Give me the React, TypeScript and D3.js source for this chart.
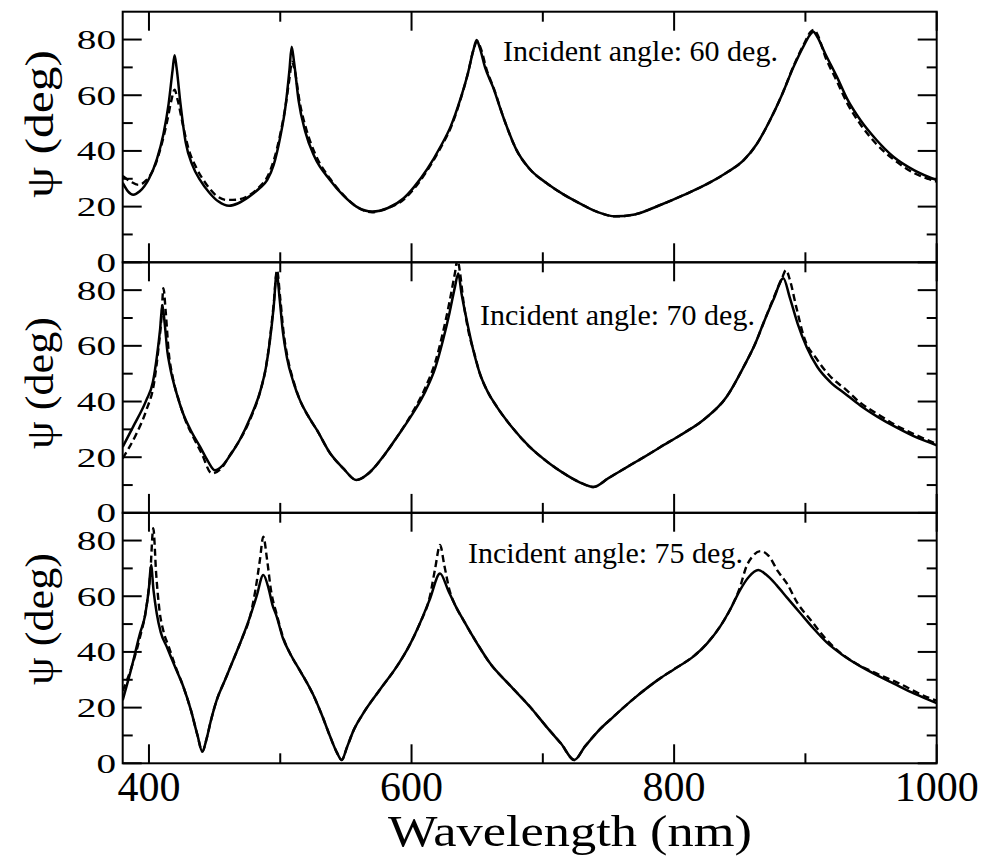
import React from "react";
import * as d3 from "d3";

// Wavelength (nm), psi (deg)
const solid60: [number, number][] = [
  [380, 28.5], [384, 25.5], [388, 24.3], [393, 25.5], [400, 30], [406, 37], [411, 46], [415, 57], [418, 69], [419.5, 74.4],
  [421, 70], [424, 57], [428, 43], [433, 35], [439, 29.5], [446, 25], [453, 21.8], [461, 20.3], [468, 21.2], [476, 23.5],
  [484, 26.5], [490, 29.5], [495, 35], [500, 45], [504, 56], [507, 69], [508.7, 77.4], [510.5, 72], [514, 58], [519, 47],
  [526, 38], [538, 29.5], [548, 24], [558, 20], [570, 18.2], [582, 19.5], [594, 23], [602, 27.1], [612, 33.5], [622, 41.5],
  [630, 49], [637, 58.3], [643, 68], [647, 76], [649.6, 79.8], [652, 77], [656, 70], [662, 63], [670, 52], [680, 40.3],
  [690, 33.5], [703, 28.4], [716, 24.3], [728, 21.2], [742, 18], [755, 16.5], [770, 17.2], [789, 20.5], [808, 24.3], [827, 28.6],
  [841, 32.5], [853, 36.7], [863, 42.5], [873, 51], [882, 60], [891, 70.2], [899, 78], [904, 82], [906, 82.8], [909, 81],
  [915, 75], [924, 66.6], [932, 58.5], [942, 51], [954, 44], [967, 37.9], [983, 33], [1000, 29.5],
];
const dashed60: [number, number][] = [
  [380, 31], [386, 29], [392, 27.8], [398, 29.5], [404, 34], [410, 43], [414, 51], [417, 58], [419.5, 62], [422, 58],
  [426, 49], [430, 41], [436, 34], [443, 28.5], [450, 24.5], [459, 22.4], [467, 22.5], [476, 24], [484, 27], [490, 30.5],
  [495, 36.5], [500, 46], [504, 56], [507, 66], [509, 72], [511, 69], [515, 57], [520, 47.5], [527, 38.5], [538, 30],
  [548, 24.2], [558, 20], [570, 18], [582, 19.5], [594, 22.5], [602, 26.5], [612, 33], [622, 41], [630, 48.5], [637, 58],
  [643, 68], [647, 76], [650, 79.3], [653, 76.5], [657, 69.5], [663, 62], [670, 52], [680, 40.3], [690, 33.5], [703, 28.4],
  [716, 24.3], [728, 21.2], [742, 18], [755, 16.5], [770, 17.2], [789, 20.5], [808, 24.3], [827, 28.6], [841, 32.5], [853, 36.7],
  [863, 42.5], [873, 51], [882, 60], [891, 70.5], [899, 78.5], [904, 82.8], [906.5, 83.5], [909, 82], [915, 74], [924, 65],
  [932, 57], [942, 49.5], [954, 42.5], [967, 37], [983, 32], [1000, 29],
];
const solid70: [number, number][] = [
  [380, 23.7], [388, 31], [398, 40.5], [403, 47], [406, 56], [408.5, 66], [410.2, 74.7], [412, 68], [414, 58], [416, 52.5],
  [421, 43], [426, 35.7], [432, 29.5], [439, 23.7], [445, 18.5], [450.3, 15.3], [456, 17], [463, 21.5], [469, 26.1], [477, 34],
  [485, 44.1], [489, 52], [492.2, 62.1], [495, 74], [497.3, 86], [499.5, 77], [502, 65], [505, 56], [510, 47], [515, 40.5],
  [521, 35], [528, 29.7], [538, 21.4], [548, 16], [558, 11.8], [568, 14.5], [578, 20], [589, 27.3], [600, 35], [611, 44.1],
  [618, 52], [624, 62.1], [629, 72], [633, 81], [635.6, 86], [638, 79], [642, 69.3], [647, 58.5], [652, 50.1], [658, 43.5],
  [665, 38.1], [677, 30.5], [690, 23.7], [703, 18.5], [716, 14.2], [728, 11], [738.5, 9.3], [750, 12.5], [766, 17], [778, 20.3],
  [789, 23.5], [805, 28], [822, 33.3], [840, 41.7], [853, 52.5], [862, 61], [868, 68.1], [876, 77], [883.2, 84.3], [888, 77.5],
  [894, 68.1], [901, 59.5], [909, 52.5], [919, 47], [930, 42.9], [942, 38.5], [955, 34.5], [970, 30.5], [985, 27], [1000, 24.3],
];
const dashed70: [number, number][] = [
  [380, 19.6], [390, 28], [398, 36.9], [404, 47], [407, 58], [409.5, 70], [411, 80.7], [412.8, 72], [415, 58], [418, 49],
  [423, 40], [428, 33], [434, 27], [440, 21.5], [447.8, 14.2], [455, 16], [462, 21], [469, 26], [477, 33.5], [485, 44],
  [489, 52], [492, 62], [495, 75], [497.5, 87.2], [500, 77], [502.5, 65], [505.5, 56], [510, 47.5], [515, 40.5], [521, 35],
  [528, 29.7], [538, 21.4], [548, 16], [558, 11.8], [568, 14.5], [578, 20], [589, 27.3], [600, 35.5], [611, 45.5], [618, 54],
  [624, 65], [629, 76], [633, 86], [635, 91], [637, 86], [639.5, 76], [643, 66], [648, 57], [652, 50.1], [658, 43.5],
  [665, 38.1], [677, 30.5], [690, 23.7], [703, 18.5], [716, 14.2], [728, 11], [738.5, 9.3], [750, 12.5], [766, 17], [778, 20.3],
  [789, 23.5], [805, 28], [822, 33.3], [840, 41.7], [853, 52.5], [862, 61], [868, 68.1], [876, 77.5], [882, 84], [885.2, 87.2],
  [888, 84], [893, 74], [899, 63], [909, 55], [919, 49], [930, 44.6], [942, 39.5], [955, 35.5], [970, 31.2], [985, 27.8], [1000, 24.8],
];
const solid75: [number, number][] = [
  [380, 22.7], [386, 33], [393.2, 46.7], [397, 53], [400, 63], [401.6, 71.2], [403.5, 62], [405.9, 53.9], [409, 47], [413.5, 41.9],
  [420, 34.5], [426.2, 27.5], [432, 19], [437, 10], [440.6, 4.2], [444, 9], [447, 15], [451.6, 22.7], [458, 30], [464.2, 37.1],
  [471, 45], [477, 52.7], [482, 60], [487.1, 67.6], [491, 63], [494, 57], [497.3, 52.7], [502, 45], [507.4, 39.5], [516, 32.5],
  [525.2, 24.5], [532, 17], [538, 9.6], [543, 4], [546.8, 1.2], [551, 6], [556, 12], [563.3, 18], [576, 26.5], [588.7, 34.7],
  [598, 42], [606.4, 50.3], [614, 59], [621.7, 68.2], [628, 62], [633, 57], [639.4, 51.5], [650, 43], [659.8, 35.9], [675, 28],
  [690.2, 20.3], [703, 13], [714, 7], [724, 1.2], [732, 6], [742, 11.5], [753.7, 16.7], [770, 23.5], [789.3, 30.5], [800, 33.8],
  [815, 38.5], [825, 43], [835, 49.1], [843, 55.5], [850.2, 62.2], [857, 67], [864.1, 69.4], [870, 67.8], [878, 64], [886, 59.5],
  [896, 54], [906, 48.5], [916, 43.5], [928, 39], [942, 34.8], [955, 31.5], [967, 28.7], [983, 25], [1000, 21.6],
];
const dashed75: [number, number][] = [
  [380, 26], [386, 33.5], [393, 45], [398, 56], [401, 68], [403.3, 84.4], [405.5, 68], [408, 55], [411, 47.5], [415, 42],
  [420, 35], [426.2, 27.5], [432, 19], [437, 10], [440.6, 4.2], [444, 9], [447, 15], [451.6, 22.7], [458, 30], [464.2, 37.1],
  [471, 45], [477, 52.7], [481, 62], [484.5, 73], [487.1, 81.4], [490, 73], [493, 62], [497.3, 53.5], [502, 45.5], [507.4, 39.5],
  [516, 32.5], [525.2, 24.5], [532, 17], [538, 9.6], [543, 4], [546.8, 1.2], [551, 6], [556, 12], [563.3, 18], [576, 26.5],
  [588.7, 34.7], [598, 42], [606.4, 50.3], [614, 60], [618, 70], [621.7, 78.4], [625, 71], [629, 62], [633, 57], [639.4, 51.5],
  [650, 43], [659.8, 35.9], [675, 28], [690.2, 20.3], [703, 13], [714, 7], [724, 1.2], [732, 6], [742, 11.5], [753.7, 16.7],
  [770, 23.5], [789.3, 30.5], [800, 33.8], [815, 38.5], [825, 43], [835, 49.1], [843, 55.5], [850, 63], [855, 70.6], [860, 74.5],
  [866, 76.2], [872, 74.5], [879, 69], [886, 64.5], [894, 57.5], [904, 51.5], [914, 45.5], [924, 40.7], [938, 36], [954, 32.3],
  [970, 29], [992, 23.9], [1000, 22.5],
];

const angles = [60, 70, 75];
const xTicks = [400, 500, 600, 700, 800, 900, 1000];
const xTickLabels = [400, 600, 800, 1000];
const yTicks = [0, 10, 20, 30, 40, 50, 60, 70, 80];
const yTickLabels = [0, 20, 40, 60, 80];

const panels = [
  { angle: angles[0], solid: solid60, dashed: dashed60 },
  { angle: angles[1], solid: solid70, dashed: dashed70 },
  { angle: angles[2], solid: solid75, dashed: dashed75 },
];

const W = 986, H = 867;
const left = 122.7, right = 936.7;
const tops = [11.7, 262.3, 512.7];
const panelH = 250.6;
// annotation positions & y-title placement per panel
const notePos = [[503, 61], [480, 325], [468, 563]];
const titleCenter = [124, 383, 619];
const titleLen = [148, 132, 132];
const font = "'Liberation Serif', 'Times New Roman', serif";

export default function App() {
  const x = d3.scaleLinear().domain([380, 1000]).range([left, right]);

  return (
    <svg width={W} height={H} style={{ position: "absolute", left: 0, top: 0, background: "#fff" }}
      fontFamily={font}>
      <defs>
        {tops.map((t, i) => (
          <clipPath id={"clip" + i} key={i}>
            <rect x={left} y={t} width={right - left} height={panelH} />
          </clipPath>
        ))}
      </defs>
      <rect width={W} height={H} fill="#fff" />
      {panels.map((p, i) => {
        const top = tops[i];
        const bottom = top + panelH;
        const y = d3.scaleLinear().domain([0, 90]).range([bottom, top]);
        const line = d3.line<[number, number]>()
          .x(d => x(d[0]))
          .y(d => y(d[1]))
          .curve(d3.curveMonotoneX);
        return (
          <g key={i}>
            <g clipPath={`url(#clip${i})`}>
              <path d={line(p.dashed) || ""} fill="none" stroke="#000" strokeWidth={2.4}
                strokeDasharray="7,4" />
              <path d={line(p.solid) || ""} fill="none" stroke="#000" strokeWidth={2.5} />
            </g>
            <rect x={left} y={top} width={right - left} height={panelH} fill="none" stroke="#000" strokeWidth={2} />
            {xTicks.map(t => {
              const len = xTickLabels.includes(t) ? 19 : 10;
              return (
                <g key={"x" + t}>
                  <line x1={x(t)} x2={x(t)} y1={bottom} y2={bottom - len} stroke="#000" strokeWidth={2} />
                  <line x1={x(t)} x2={x(t)} y1={top} y2={top + len} stroke="#000" strokeWidth={2} />
                </g>
              );
            })}
            {yTicks.map(t => {
              const len = yTickLabels.includes(t) ? 19 : 10;
              return (
                <g key={"y" + t}>
                  <line x1={left} x2={left + len} y1={y(t)} y2={y(t)} stroke="#000" strokeWidth={2} />
                  <line x1={right} x2={right - len} y1={y(t)} y2={y(t)} stroke="#000" strokeWidth={2} />
                </g>
              );
            })}
            {yTickLabels.map(t => (
              <text key={"yl" + t} transform={`translate(116,${y(t)}) scale(1.4,1)`} textAnchor="end"
                dominantBaseline="central" fontSize={28}>{t}</text>
            ))}
            <text transform={`translate(53,${titleCenter[i]}) rotate(-90)`} textAnchor="middle" fontSize={40}
              textLength={titleLen[i]} lengthAdjust="spacingAndGlyphs">ψ (deg)</text>
            <text x={notePos[i][0]} y={notePos[i][1]} fontSize={30}>
              {`Incident angle: ${p.angle} deg.`}
            </text>
          </g>
        );
      })}
      {xTickLabels.map(t => (
        <text key={"xl" + t} x={x(t)} y={801} textAnchor="middle" fontSize={42}>{t}</text>
      ))}
      <text x={570} y={846} textAnchor="middle" fontSize={44} textLength={364}
        lengthAdjust="spacingAndGlyphs">Wavelength (nm)</text>
    </svg>
  );
}
